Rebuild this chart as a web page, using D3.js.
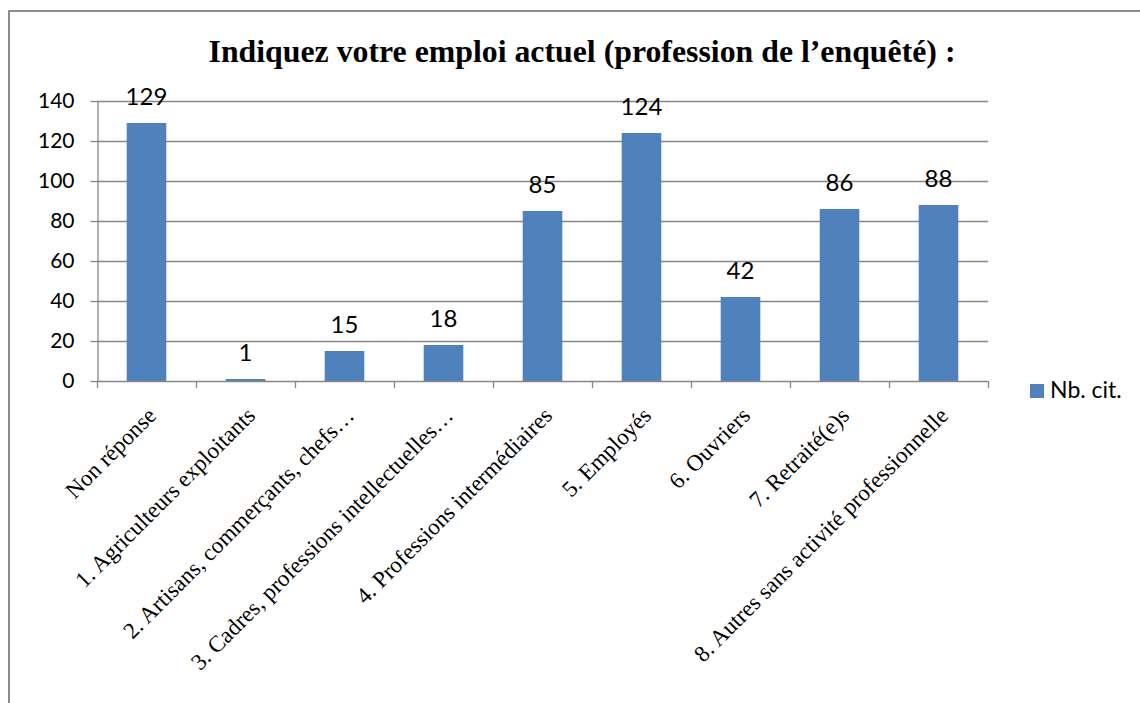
<!DOCTYPE html>
<html>
<head>
<meta charset="utf-8">
<script src="https://cdn.jsdelivr.net/npm/d3@7/dist/d3.min.js"></script>
<style>
  html, body { margin: 0; padding: 0; background: #fff; }
  svg { display: block; }
</style>
</head>
<body>
<svg id="chart" width="1140" height="703"></svg>
<script>
// Survey answers: current occupation of respondents
const categories = [
  "Non réponse",
  "1. Agriculteurs exploitants",
  "2. Artisans, commerçants, chefs…",
  "3. Cadres, professions intellectuelles…",
  "4. Professions intermédiaires",
  "5. Employés",
  "6. Ouvriers",
  "7. Retraité(e)s",
  "8. Autres sans activité professionnelle"
];
const counts = [129, 1, 15, 18, 85, 124, 42, 86, 88];
const yTicks = [0, 20, 40, 60, 80, 100, 120, 140];
const seriesName = "Nb. cit.";
const title = "Indiquez votre emploi actuel (profession de l’enquêté) :";

const svg = d3.select("#chart");
const barColor = "#4F81BD";
const gridColor = "#878787";
const sansFont = "Lato, 'Open Sans', sans-serif";
const serifFont = "'Liberation Serif', 'Times New Roman', serif";

// frame around the chart
svg.append("path")
  .attr("d", "M9,720 L9,11 L1160,11")
  .attr("fill", "none")
  .attr("stroke", "#8c8c8c")
  .attr("stroke-width", 2);

// title
svg.append("text")
  .attr("x", 582)
  .attr("y", 62)
  .attr("text-anchor", "middle")
  .attr("font-family", serifFont)
  .attr("font-weight", "bold")
  .attr("font-size", 31)
  .attr("textLength", 747)
  .attr("lengthAdjust", "spacingAndGlyphs")
  .attr("fill", "#000")
  .text(title);

const plot = { left: 97, right: 988, top: 101, bottom: 381 };

const x = d3.scaleBand()
  .domain(categories)
  .range([plot.left, plot.right])
  .paddingInner(0.6)
  .paddingOuter(0.3);

const y = d3.scaleLinear()
  .domain([0, 140])
  .range([plot.bottom, plot.top]);

// horizontal gridlines
svg.append("g")
  .selectAll("line")
  .data(yTicks.filter(d => d > 0))
  .join("line")
  .attr("x1", plot.left)
  .attr("x2", plot.right)
  .attr("y1", d => Math.round(y(d)) + 0.5)
  .attr("y2", d => Math.round(y(d)) + 0.5)
  .attr("stroke", gridColor)
  .attr("stroke-width", 1.3);

// y axis
const yAxis = svg.append("g")
  .attr("transform", `translate(${plot.left + 0.5},0)`)
  .call(d3.axisLeft(y).tickValues(yTicks).tickSize(7).tickPadding(16).tickSizeOuter(0));
yAxis.select(".domain").attr("stroke", gridColor).attr("stroke-width", 1.3);
yAxis.selectAll(".tick line").attr("stroke", gridColor).attr("stroke-width", 1.3);
yAxis.selectAll(".tick text")
  .attr("font-family", sansFont)
  .attr("font-size", 21)
  .attr("fill", "#000");

// bars
svg.append("g")
  .selectAll("rect")
  .data(counts)
  .join("rect")
  .attr("x", (d, i) => x(categories[i]))
  .attr("width", x.bandwidth())
  .attr("y", d => y(d))
  .attr("height", d => y(0) - y(d))
  .attr("fill", barColor);

// value labels
svg.append("g")
  .selectAll("text")
  .data(counts)
  .join("text")
  .attr("x", (d, i) => x(categories[i]) + x.bandwidth() / 2)
  .attr("y", d => y(d) - 18)
  .attr("text-anchor", "middle")
  .attr("font-family", sansFont)
  .attr("font-size", 24)
  .attr("fill", "#000")
  .text(d => d);

// x axis line with ticks at category boundaries
const boundaries = d3.range(categories.length + 1).map(i => plot.left + i * (plot.right - plot.left) / categories.length);
const xAxis = svg.append("g");
xAxis.append("line")
  .attr("x1", plot.left).attr("x2", plot.right)
  .attr("y1", plot.bottom + 0.5).attr("y2", plot.bottom + 0.5)
  .attr("stroke", gridColor).attr("stroke-width", 1.3);
xAxis.selectAll("line.tick")
  .data(boundaries)
  .join("line")
  .attr("class", "tick")
  .attr("x1", d => Math.round(d) + 0.5).attr("x2", d => Math.round(d) + 0.5)
  .attr("y1", plot.bottom).attr("y2", plot.bottom + 7)
  .attr("stroke", gridColor).attr("stroke-width", 1.3);

// rotated category labels
xAxis.selectAll("text")
  .data(categories)
  .join("text")
  .attr("transform", d => `translate(${x(d) + x.bandwidth() / 2 + 11},${plot.bottom + 36}) rotate(-45)`)
  .attr("text-anchor", "end")
  .attr("font-family", serifFont)
  .attr("font-size", 23)
  .attr("fill", "#000")
  .text(d => d);

// legend
const legend = svg.append("g").attr("transform", "translate(1030,384)");
legend.append("rect").attr("width", 14).attr("height", 14).attr("fill", barColor);
legend.append("text")
  .attr("x", 20).attr("y", 14)
  .attr("font-family", sansFont)
  .attr("font-size", 23)
  .attr("fill", "#000")
  .text(seriesName);
</script>
</body>
</html>
